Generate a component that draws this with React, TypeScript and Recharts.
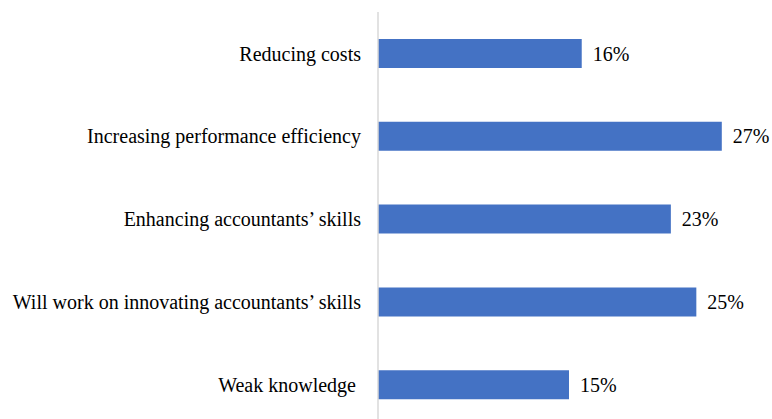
import React from "react";
import { BarChart, Bar, XAxis, YAxis, LabelList } from "recharts";

const categories = [
    "Reducing costs",
    "Increasing performance efficiency",
    "Enhancing accountants\u2019 skills",
    "Will work on innovating accountants\u2019 skills",
    "Weak knowledge\u00a0",
];
const shares = [16, 27, 23, 25, 15];

const data = categories.map((name, i) => ({ name, value: shares[i] }));

const font = "Liberation Serif";

const CategoryTick = (props: any) => {
    const { x, y, payload } = props;
    return (
        <text
            x={x}
            y={y}
            dy="0.355em"
            textAnchor="end"
            fill="#000"
            style={{ fontFamily: font, fontSize: 20, whiteSpace: "pre" }}
        >
            {payload.value}
        </text>
    );
};

const ValueLabel = (props: any) => {
    const { x, y, width, height, value } = props;
    return (
        <text
            x={x + width + 11}
            y={y + height / 2}
            dy="0.355em"
            fill="#000"
            style={{ fontFamily: font, fontSize: 20 }}
        >
            {`${value}%`}
        </text>
    );
};

export default function App() {
    return (
        <div style={{ position: "absolute", left: 0, top: 0, width: 772, height: 426, background: "#fff", fontFamily: font }}>
            <BarChart
                width={772}
                height={426}
                data={data}
                layout="vertical"
                margin={{ top: 12, right: 12, left: 0, bottom: 0 }}
            >
                <XAxis type="number" domain={[0, 30]} hide />
                <YAxis
                    type="category"
                    dataKey="name"
                    width={378}
                    tickLine={false}
                    tickMargin={11}
                    axisLine={{ stroke: "#d9d9d9", strokeWidth: 1.5 }}
                    tick={<CategoryTick />}
                    interval={0}
                />
                <Bar dataKey="value" fill="#4472c4" barSize={29} isAnimationActive={false}>
                    <LabelList dataKey="value" content={<ValueLabel />} />
                </Bar>
            </BarChart>
        </div>
    );
}
